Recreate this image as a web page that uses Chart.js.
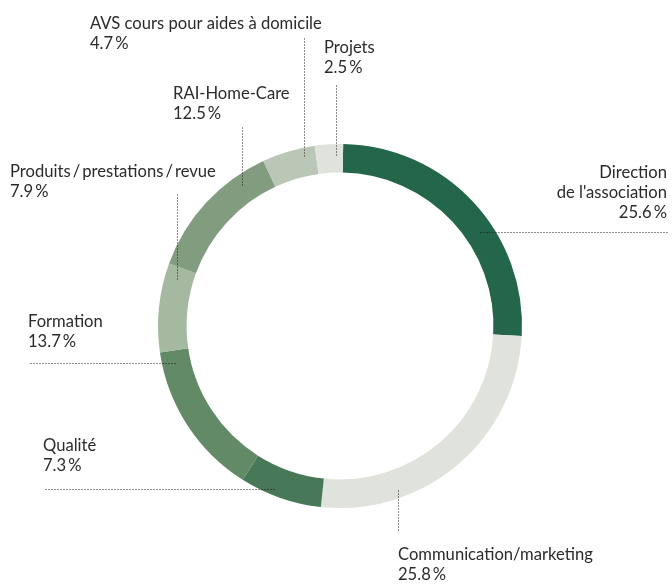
<!DOCTYPE html>
<html>
<head>
<meta charset="utf-8">
<script src="https://cdn.jsdelivr.net/npm/chart.js@4"></script>
<style>
  html, body { margin: 0; padding: 0; background: #fff; }
  #wrap { width: 672px; height: 584px; }
</style>
</head>
<body>
<div id="wrap"><canvas id="budget_chart" width="672" height="584"></canvas></div>
<script>
// data, clockwise from the top
const categories = [
    ["Direction", "de l'association"],
    ["Communication/marketing"],
    ["Qualité"],
    ["Formation"],
    ["Produits\u2009/\u2009prestations\u2009/\u2009revue"],
    ["RAI-Home-Care"],
    ["AVS cours pour aides à domicile"],
    ["Projets"]
];
const shares = [25.6, 25.8, 7.3, 13.7, 7.9, 12.5, 4.7, 2.5];
const colors = ["#23664a", "#e0e3db", "#477858", "#638a67", "#a4b9a0", "#829c7f", "#bac7b6", "#e0e3db"];

// label placement: text position, leader line (frac along arc, depth in ring, direction, end)
const labelLayout = [
    { x: 667, y: 178, align: "right", frac: 0.60, depth: 0.53, dir: "h", end: 668 },
    { x: 398, y: 560, align: "left",  frac: 0.725, depth: 0.72, dir: "v", end: 531 },
    { x: 43,  y: 451, align: "left",  frac: 0.61, depth: 0.79, dir: "h", end: 45 },
    { x: 28,  y: 327, align: "left",  frac: 0.91, depth: 0.54, dir: "h", end: 30 },
    { x: 10,  y: 177, align: "left",  frac: 0.86, depth: 0.57, dir: "v", end: 193 },
    { x: 173, y: 99,  align: "left",  frac: 0.78, depth: 0.64, dir: "v", end: 125 },
    { x: 90,  y: 29,  align: "left",  frac: 0.76, depth: 0.71, dir: "v", end: 38 },
    { x: 324, y: 53,  align: "left",  frac: 0.74, depth: 0.61, dir: "v", end: 85 }
];

const calloutPlugin = {
    id: "callouts",
    afterDatasetsDraw(chart) {
        const ctx = chart.ctx;
        const arcs = chart.getDatasetMeta(0).data;
        ctx.save();
        arcs.forEach((arc, i) => {
            const L = labelLayout[i];
            const p = arc.getProps(["x", "y", "startAngle", "endAngle", "innerRadius", "outerRadius"], true);
            const a = p.startAngle + (p.endAngle - p.startAngle) * L.frac;
            const r = p.innerRadius + (p.outerRadius - p.innerRadius) * L.depth;
            const ax = Math.round(p.x + r * Math.cos(a)) + 0.5;
            const ay = Math.round(p.y + r * Math.sin(a)) + 0.5;

            ctx.strokeStyle = "#1a1a1a";
            ctx.lineWidth = 1;
            ctx.setLineDash([1, 2]);
            ctx.beginPath();
            ctx.moveTo(ax, ay);
            if (L.dir === "v") ctx.lineTo(ax, L.end + 0.5);
            else ctx.lineTo(L.end + 0.5, ay);
            ctx.stroke();

            ctx.setLineDash([]);
            ctx.fillStyle = "#2b2b2b";
            ctx.font = "16.6px Lato";
            ctx.textAlign = L.align;
            ctx.textBaseline = "alphabetic";
            const lines = categories[i].concat([shares[i].toFixed(1) + "\u2009%"]);
            lines.forEach((t, k) => ctx.fillText(t, L.x, L.y + k * 20));
        });
        ctx.restore();
    }
};

const ctx = document.getElementById("budget_chart");
const budget_chart = new Chart(ctx, {
    type: 'doughnut',
    data: {
        labels: categories.map(c => c.join(" ")),
        datasets: [{
            data: shares,
            backgroundColor: colors,
            borderWidth: 0
        }]
    },
    options: {
        responsive: false,
        animation: false,
        cutout: '84.3%',
        rotation: 1,
        layout: {
            padding: { left: 158, right: 150, top: 144, bottom: 76 }
        },
        plugins: {
            legend: { display: false },
            tooltip: { enabled: false }
        }
    },
    plugins: [calloutPlugin]
});
</script>
</body>
</html>
